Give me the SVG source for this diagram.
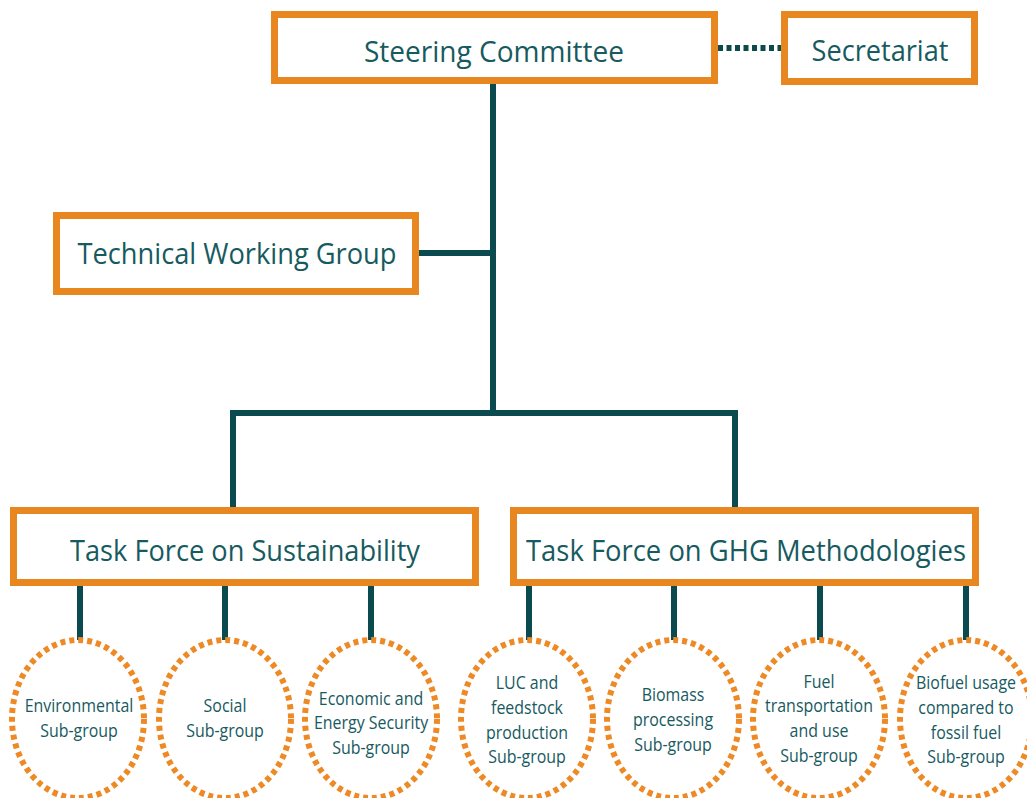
<svg xmlns="http://www.w3.org/2000/svg" width="1027" height="798" viewBox="0 0 1027 798">
<style>
.box{fill:#fff;stroke:#e8861f;stroke-width:7}
.sub{fill:#fff;stroke:#ee8a25;stroke-width:6;stroke-dasharray:5 4}
.c{stroke:#0b4b50;stroke-width:6;fill:none}
.t{font-family:"Open Sans","Noto Sans",sans-serif;font-size:30px;fill:#175a5f;text-anchor:middle}
.s{font-family:"Open Sans","Noto Sans",sans-serif;font-size:19px;fill:#175a5f;text-anchor:middle}
</style>
<rect width="1027" height="798" fill="#fff"/>
<g id="connectors">
<line class="c" x1="718" y1="48" x2="781" y2="48" stroke-dasharray="5 3.5"/>
<line class="c" x1="493" y1="84" x2="493" y2="416"/>
<line class="c" x1="419" y1="253" x2="496" y2="253"/>
<polyline class="c" points="233,507 233,413 735,413 735,507"/>
<line class="c" x1="80" y1="586" x2="80" y2="640"/>
<line class="c" x1="225" y1="586" x2="225" y2="640"/>
<line class="c" x1="371" y1="586" x2="371" y2="640"/>
<line class="c" x1="529" y1="586" x2="529" y2="640"/>
<line class="c" x1="674" y1="586" x2="674" y2="640"/>
<line class="c" x1="820" y1="586" x2="820" y2="640"/>
<line class="c" x1="966" y1="586" x2="966" y2="640"/>
</g>
<g id="steering"><rect class="box" x="274.5" y="14.5" width="440" height="66"/><text class="t" x="494" y="62" textLength="260" lengthAdjust="spacingAndGlyphs">Steering Committee</text></g>
<g id="secretariat"><rect class="box" x="784.5" y="14.5" width="190" height="67"/><text class="t" x="880" y="61" textLength="137" lengthAdjust="spacingAndGlyphs">Secretariat</text></g>
<g id="twg"><rect class="box" x="56.5" y="215.5" width="359" height="76"/><text class="t" x="237" y="264" textLength="319" lengthAdjust="spacingAndGlyphs">Technical Working Group</text></g>
<g id="tfs"><rect class="box" x="13.5" y="510.5" width="462" height="72"/><text class="t" x="245" y="561" textLength="350" lengthAdjust="spacingAndGlyphs">Task Force on Sustainability</text></g>
<g id="tfg"><rect class="box" x="513.5" y="510.5" width="462" height="72"/><text class="t" x="746" y="561" textLength="440" lengthAdjust="spacingAndGlyphs">Task Force on GHG Methodologies</text></g>
<g id="env"><ellipse class="sub" cx="78" cy="719" rx="66" ry="79"/><g transform="translate(79 0) scale(0.84 1)"><text class="s" x="0" y="712">Environmental</text><text class="s" x="0" y="737">Sub-group</text></g></g>
<g id="social"><ellipse class="sub" cx="225" cy="719" rx="66" ry="79"/><g transform="translate(225 0) scale(0.84 1)"><text class="s" x="0" y="712">Social</text><text class="s" x="0" y="737">Sub-group</text></g></g>
<g id="econ"><ellipse class="sub" cx="371" cy="719" rx="66" ry="79"/><g transform="translate(371 0) scale(0.84 1)"><text class="s" x="0" y="705">Economic and</text><text class="s" x="0" y="729">Energy Security</text><text class="s" x="0" y="754">Sub-group</text></g></g>
<g id="luc"><ellipse class="sub" cx="527" cy="719" rx="66" ry="79"/><g transform="translate(527 0) scale(0.84 1)"><text class="s" x="0" y="689">LUC and</text><text class="s" x="0" y="714">feedstock</text><text class="s" x="0" y="739">production</text><text class="s" x="0" y="763">Sub-group</text></g></g>
<g id="biomass"><ellipse class="sub" cx="673" cy="719" rx="66" ry="79"/><g transform="translate(673 0) scale(0.84 1)"><text class="s" x="0" y="701">Biomass</text><text class="s" x="0" y="726">processing</text><text class="s" x="0" y="751">Sub-group</text></g></g>
<g id="fuel"><ellipse class="sub" cx="819" cy="719" rx="66" ry="79"/><g transform="translate(819 0) scale(0.84 1)"><text class="s" x="0" y="688">Fuel</text><text class="s" x="0" y="712">transportation</text><text class="s" x="0" y="737">and use</text><text class="s" x="0" y="762">Sub-group</text></g></g>
<g id="biofuel"><ellipse class="sub" cx="966" cy="719" rx="66" ry="79"/><g transform="translate(966 0) scale(0.84 1)"><text class="s" x="0" y="689">Biofuel usage</text><text class="s" x="0" y="714">compared to</text><text class="s" x="0" y="739">fossil fuel</text><text class="s" x="0" y="763">Sub-group</text></g></g>
</svg>
